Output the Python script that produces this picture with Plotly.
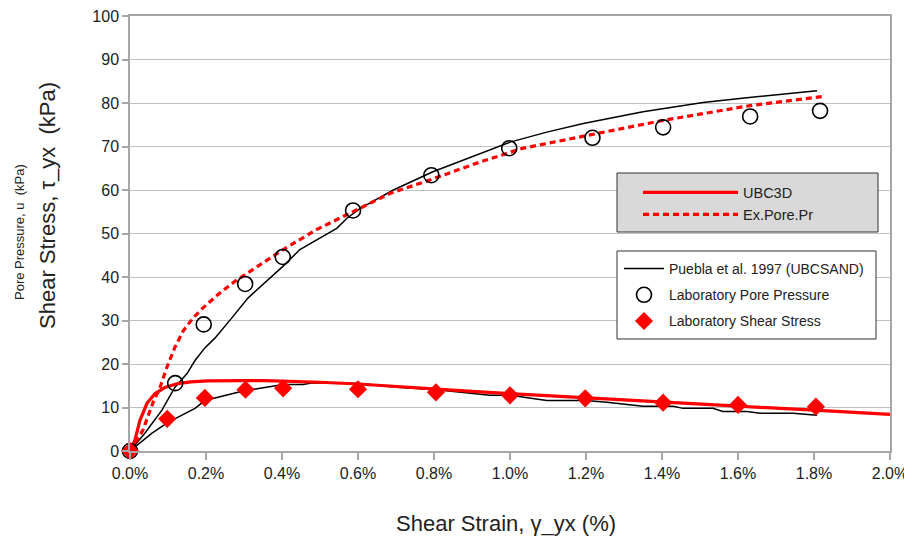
import plotly.graph_objects as go

# ---------------- data (strain in %, stress / pressure in kPa) ----------------
ubc3d_x = [0, 0.013, 0.026, 0.045, 0.066, 0.092, 0.126, 0.16, 0.205, 0.25, 0.3, 0.355, 0.4, 0.5,
           0.6, 0.7, 0.8, 0.9, 1.0, 1.2, 1.4, 1.6, 1.8, 2.0]
ubc3d_y = [0, 2.5, 7.0, 11.0, 13.2, 14.6, 15.5, 15.9, 16.1, 16.2, 16.2, 16.2, 16.1, 15.8,
           15.4, 14.8, 14.2, 13.7, 13.2, 12.2, 11.2, 10.3, 9.4, 8.4]

expp_x = [0, 0.008, 0.034, 0.06, 0.079, 0.097, 0.118, 0.14, 0.166, 0.192, 0.232, 0.276, 0.316,
          0.403, 0.491, 0.588, 0.684, 0.789, 0.92, 1.034, 1.218, 1.403, 1.632, 1.824]
expp_y = [0, 0.9, 4.8, 11.0, 14.6, 19.2, 23.8, 27.6, 30.6, 32.9, 36.0, 39.0, 41.3,
          46.3, 50.9, 55.0, 59.2, 62.3, 66.4, 69.6, 72.8, 76.0, 79.4, 81.5]

# Puebla et al. 1997 (UBCSAND): pore-pressure branch, gap, shear-stress branch
puebla_pp_x = [0, 0.039, 0.084, 0.118, 0.15, 0.171, 0.197, 0.224, 0.268, 0.311,
               0.403, 0.447, 0.544, 0.571, 0.605, 0.693, 0.797, 0.886, 0.929, 1.0, 1.097,
               1.193, 1.35, 1.447, 1.508, 1.623, 1.808]
puebla_pp_y = [0, 4.1, 9.4, 14.6, 17.8, 20.8, 23.7, 26.0, 30.6, 35.2,
               42.5, 46.3, 51.2, 53.5, 55.7, 60.0, 64.2, 67.2, 68.7, 71.0, 73.3,
               75.3, 78.0, 79.2, 80.1, 81.2, 82.8]
puebla_ss_x = [0, 0.058, 0.1, 0.145, 0.171, 0.197, 0.25, 0.303, 0.355, 0.403, 0.455, 0.482,
               0.605, 0.71, 0.807, 0.947, 1.0, 1.097, 1.2, 1.255, 1.35, 1.43, 1.455, 1.534,
               1.56, 1.623, 1.658, 1.745, 1.808]
puebla_ss_y = [0, 4.1, 6.6, 8.6, 9.8, 11.6, 12.8, 13.9, 14.6, 15.3, 15.3, 15.7,
               15.5, 14.6, 14.1, 12.8, 12.8, 11.6, 11.6, 11.2, 10.3, 10.3, 9.8, 9.8,
               9.1, 9.1, 8.7, 8.7, 8.2]

lab_pp_x = [0.0, 0.119, 0.194, 0.303, 0.402, 0.587, 0.793, 0.998, 1.217, 1.403, 1.632, 1.816]
lab_pp_y = [0.0, 15.6, 29.1, 38.4, 44.6, 55.3, 63.4, 69.6, 72.0, 74.4, 76.9, 78.2]

lab_ss_x = [0.0, 0.098, 0.197, 0.304, 0.403, 0.600, 0.805, 1.000, 1.198, 1.403, 1.600, 1.805]
lab_ss_y = [0.0, 7.4, 12.2, 14.1, 14.4, 14.2, 13.5, 12.8, 12.1, 11.1, 10.6, 10.2]

x_ticks = [0.0, 0.2, 0.4, 0.6, 0.8, 1.0, 1.2, 1.4, 1.6, 1.8, 2.0]
y_ticks = [0, 10, 20, 30, 40, 50, 60, 70, 80, 90, 100]

FONT = "Liberation Sans, Arial, sans-serif"
TXT = "#222222"

# page body has an 8px margin: the figure is sized so that it fills 912x538 exactly
FIG_W, FIG_H = 904, 530
PLOT_L, PLOT_R, PLOT_T, PLOT_B = 130, 890, 16, 451   # page pixels of the plot area


def px_x(p):
    return (p - PLOT_L) / (PLOT_R - PLOT_L)


def px_y(p):
    return (PLOT_B - p) / (PLOT_B - PLOT_T)


fig = go.Figure()

fig.add_trace(go.Scatter(
    x=puebla_pp_x + [None] + puebla_ss_x, y=puebla_pp_y + [None] + puebla_ss_y,
    mode="lines", name="Puebla et al. 1997 (UBCSAND)", legendgroup="g1",
    line=dict(color="black", width=1.5), legend="legend2", cliponaxis=False))

fig.add_trace(go.Scatter(
    x=ubc3d_x, y=ubc3d_y, mode="lines", name="UBC3D",
    line=dict(color="#ff0000", width=3.2), legend="legend", cliponaxis=False))

fig.add_trace(go.Scatter(
    x=expp_x, y=expp_y, mode="lines", name="Ex.Pore.Pr",
    line=dict(color="#ff0000", width=3.2, dash="6px,4px"), legend="legend", cliponaxis=False))

fig.add_trace(go.Scatter(
    x=lab_pp_x, y=lab_pp_y, mode="markers", name="Laboratory Pore Pressure", legendgroup="g2",
    marker=dict(symbol="circle-open", size=15, color="black", line=dict(width=1.6)),
    legend="legend2", cliponaxis=False))

fig.add_trace(go.Scatter(
    x=lab_ss_x, y=lab_ss_y, mode="markers", name="Laboratory Shear Stress", legendgroup="g3",
    marker=dict(symbol="diamond", size=14, color="#ff0000", line=dict(width=0)),
    legend="legend2", cliponaxis=False))

axis_common = dict(
    showline=True, linecolor="#a6a6a6", linewidth=1.5, mirror=True,
    ticks="outside", tickcolor="#a6a6a6", tickwidth=1.5, automargin=False,
    ticklabeloverflow="allow",
    tickfont=dict(family=FONT, size=16, color=TXT), zeroline=False,
)

fig.update_layout(
    width=FIG_W, height=FIG_H,
    margin=dict(l=PLOT_L - 8, r=FIG_W + 8 - PLOT_R, t=PLOT_T - 8, b=FIG_H + 8 - PLOT_B),
    paper_bgcolor="white", plot_bgcolor="white",
    font=dict(family=FONT, color=TXT),
    xaxis=dict(range=[0, 2], tickvals=x_ticks,
               ticktext=[f"{v:.1f}%" for v in x_ticks],
               showgrid=False, ticklen=7, **axis_common),
    yaxis=dict(range=[0, 100], tickvals=y_ticks, showgrid=True,
               gridcolor="#c0c0c0", gridwidth=1.2, ticklen=6, **axis_common),
    legend=dict(x=px_x(638), y=px_y(176.5), xanchor="left", yanchor="top",
                bgcolor="rgba(0,0,0,0)", borderwidth=0,
                font=dict(family=FONT, size=14.5, color=TXT), itemwidth=95,
                tracegroupgap=0),
    legend2=dict(x=px_x(619), y=px_y(253), xanchor="left", yanchor="top",
                 bgcolor="rgba(0,0,0,0)", borderwidth=0,
                 font=dict(family=FONT, size=14, color=TXT), itemwidth=40,
                 tracegroupgap=5),
    showlegend=True,
    shapes=[
        dict(type="rect", xref="paper", yref="paper", layer="above",
             x0=px_x(617), x1=px_x(878), y0=px_y(232), y1=px_y(173),
             fillcolor="#d9d9d9", line=dict(color="#333333", width=1)),
        dict(type="rect", xref="paper", yref="paper", layer="above",
             x0=px_x(617), x1=px_x(876), y0=px_y(339), y1=px_y(251),
             fillcolor="white", line=dict(color="#333333", width=1)),
    ],
    annotations=[
        dict(text="Shear Strain, γ_yx (%)", xref="paper", yref="paper",
             x=px_x(506), y=px_y(523), xanchor="center", yanchor="middle",
             showarrow=False, font=dict(family=FONT, size=22, color=TXT)),
        dict(text="Shear Stress, τ_yx  (kPa)", xref="paper", yref="paper",
             x=px_x(47), y=px_y(206), xanchor="center", yanchor="middle",
             textangle=-90, showarrow=False, font=dict(family=FONT, size=22, color=TXT)),
        dict(text="Pore Pressure, u  (kPa)", xref="paper", yref="paper",
             x=px_x(19), y=px_y(232), xanchor="center", yanchor="middle",
             textangle=-90, showarrow=False, font=dict(family=FONT, size=13, color=TXT)),
    ],
)

fig.write_html("out.html")
